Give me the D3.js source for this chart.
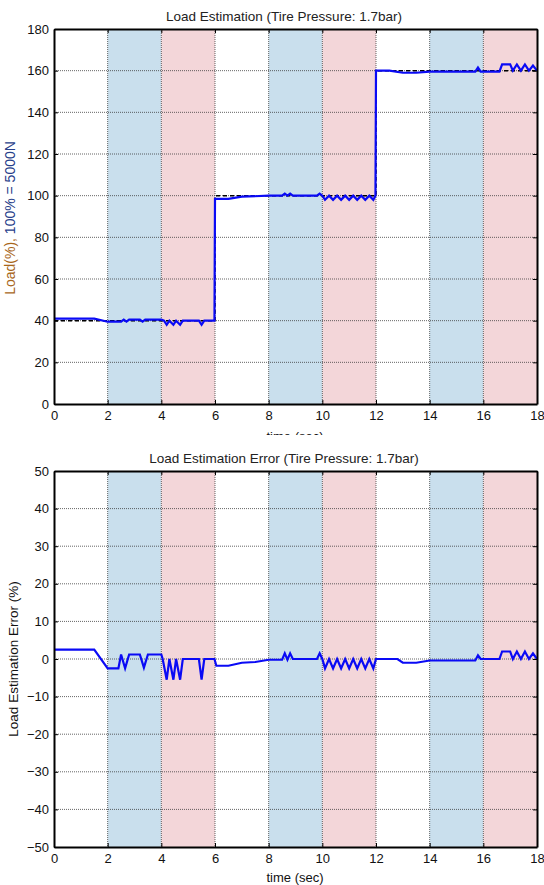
<!DOCTYPE html>
<html>
<head>
<meta charset="utf-8">
<script src="https://cdn.jsdelivr.net/npm/d3@7"></script>
<style>
  body { margin: 0; background: #fff; }
  svg text { font-family: "Liberation Sans", Arial, sans-serif; }
</style>
</head>
<body>
<div id="wrapper"></div>
<script>
// shaded test phases (sec)
const blueBands = [[2, 4], [8, 10], [14, 16]];
const pinkBands = [[4, 6], [10, 12], [16, 18]];

const xTicks = [0, 2, 4, 6, 8, 10, 12, 14, 16, 18];
const loadTicks = [0, 20, 40, 60, 80, 100, 120, 140, 160, 180];
const errTicks = [-50, -40, -30, -20, -10, 0, 10, 20, 30, 40, 50];

// reference load (black dashed)
const refTime = [0, 6, 6, 12, 12, 18];
const refLoad = [40, 40, 100, 100, 160, 160];

// estimated load (blue)
const estTime = [0, 1.5, 2.0, 2.5, 2.6, 2.7, 2.8, 3.2, 3.3, 3.4, 4.0, 4.1, 4.2, 4.3, 4.45, 4.55, 4.7, 4.8, 5.4, 5.5, 5.6, 5.98,
  6.0, 6.5, 7.0, 8.0, 8.5, 8.6, 8.7, 8.8, 8.9, 9.8, 9.9, 10.0,
  10.1, 10.25, 10.4, 10.55, 10.7, 10.85, 11.0, 11.15, 11.3, 11.45, 11.6, 11.75, 11.9, 11.98,
  12.0, 12.5, 13.0, 13.5, 14.0, 15.7, 15.8, 15.9, 16.6, 16.7, 17.0, 17.1, 17.25, 17.4, 17.55, 17.7, 17.85, 18.0];
const estLoad = [41, 41, 39.5, 39.5, 40.5, 39.5, 40.5, 40.5, 39.5, 40.5, 40.5, 40, 38, 40, 38, 40, 38, 40, 40, 38, 40, 40,
  98.5, 98.5, 99.5, 100, 100, 101, 100, 101, 100, 100, 101, 100,
  98, 100, 98, 100, 98, 100, 98, 100, 98, 100, 98, 100, 98, 100,
  160, 160, 159, 159, 159.5, 159.5, 161.5, 159.5, 159.5, 163, 163, 160, 163, 160, 163, 160, 162.5, 160];

// estimation error (blue, %)
const errTime = [0, 1.5, 2.0, 2.4, 2.5, 2.65, 2.8, 3.2, 3.35, 3.5, 4.0, 4.05, 4.2, 4.3, 4.45, 4.55, 4.7, 4.8, 5.4, 5.5, 5.6, 5.98,
  6.05, 6.5, 7.0, 7.5, 8.0, 8.5, 8.6, 8.7, 8.8, 8.9, 9.8, 9.9, 10.0,
  10.1, 10.25, 10.4, 10.55, 10.7, 10.85, 11.0, 11.15, 11.3, 11.45, 11.6, 11.75, 11.9, 12.0,
  12.8, 13.0, 13.5, 14.0, 15.7, 15.8, 15.9, 16.6, 16.7, 17.0, 17.1, 17.25, 17.4, 17.55, 17.7, 17.85, 18.0];
const errValue = [2.5, 2.5, -2.5, -2.5, 1.2, -2.5, 1.2, 1.2, -2.3, 1.2, 1.2, 0, -5.5, 0, -5.5, 0, -5.5, 0, 0, -5.5, 0, 0,
  -1.8, -1.8, -1, -0.8, -0.2, -0.2, 1.5, -0.2, 1.5, 0, 0, 1.5, 0,
  -2.5, 0, -2.5, 0, -2.5, 0, -2.5, 0, -2.5, 0, -2.5, 0, -2.5, 0,
  0, -1, -1, -0.4, -0.4, 1, 0, 0, 2, 2, 0, 2, 0, 2, 0, 1.5, 0];

const width = 544, height = 885;
const svg = d3.select("#wrapper").append("svg")
  .attr("width", width).attr("height", height);

function drawPanel(opt) {
  const x = d3.scaleLinear().domain([0, 18]).range([54, 537]);
  const y = d3.scaleLinear().domain(opt.yDomain).range([opt.bottom, opt.top]);
  const g = svg.append("g");

  // background bands
  g.selectAll(".bb").data(blueBands).enter().append("rect")
    .attr("x", d => x(d[0])).attr("width", d => x(d[1]) - x(d[0]))
    .attr("y", opt.top).attr("height", opt.bottom - opt.top)
    .attr("fill", "#c9dfed");
  g.selectAll(".pb").data(pinkBands).enter().append("rect")
    .attr("x", d => x(d[0])).attr("width", d => x(d[1]) - x(d[0]))
    .attr("y", opt.top).attr("height", opt.bottom - opt.top)
    .attr("fill", "#f3d6d9");

  // grid
  g.selectAll(".gx").data(xTicks.slice(1, -1)).enter().append("line")
    .attr("x1", d => x(d)).attr("x2", d => x(d))
    .attr("y1", opt.top).attr("y2", opt.bottom)
    .attr("stroke", "#333").attr("stroke-width", 1).attr("stroke-dasharray", "1,1").attr("opacity", 0.75);
  g.selectAll(".gy").data(opt.yTicks.slice(1, -1)).enter().append("line")
    .attr("x1", 54).attr("x2", 537)
    .attr("y1", d => y(d)).attr("y2", d => y(d))
    .attr("stroke", "#333").attr("stroke-width", 1).attr("stroke-dasharray", "1,1").attr("opacity", 0.75);

  // series
  opt.series.forEach(s => {
    const line = d3.line().x((d, i) => x(s.t[i])).y(d => y(d));
    g.append("path").datum(s.v)
      .attr("d", line)
      .attr("fill", "none")
      .attr("stroke", s.color)
      .attr("stroke-width", s.w)
      .attr("stroke-dasharray", s.dash || null);
  });

  // axes (inward ticks, MATLAB style)
  const axB = g.append("g").attr("transform", `translate(0,${opt.bottom})`)
    .call(d3.axisBottom(x).tickValues(xTicks).tickSizeInner(-4).tickSizeOuter(0).tickPadding(7));
  const axT = g.append("g").attr("transform", `translate(0,${opt.top})`)
    .call(d3.axisTop(x).tickValues(xTicks).tickSizeInner(-4).tickSizeOuter(0).tickFormat(""));
  const axL = g.append("g").attr("transform", "translate(54,0)")
    .call(d3.axisLeft(y).tickValues(opt.yTicks).tickSizeInner(-4).tickSizeOuter(0).tickPadding(5));
  const axR = g.append("g").attr("transform", "translate(537,0)")
    .call(d3.axisRight(y).tickValues(opt.yTicks).tickSizeInner(-4).tickSizeOuter(0).tickFormat(""));
  [axB, axT, axL, axR].forEach(a => {
    a.select(".domain").attr("stroke", "#000").attr("stroke-width", 2);
    a.selectAll(".tick line").attr("stroke", "#000");
    a.selectAll("text").attr("font-size", "13px").attr("fill", "#111")
      .style("font-family", "Liberation Sans, Arial, sans-serif");
  });

  g.append("text")
    .attr("x", 284).attr("y", opt.top - 8)
    .attr("text-anchor", "middle").attr("font-size", "13.5px").attr("fill", "#222")
    .text(opt.title);

  return { x, y, g };
}

const loadPanel = drawPanel({
  top: 29, bottom: 404,
  yDomain: [0, 180], yTicks: loadTicks,
  title: "Load Estimation (Tire Pressure: 1.7bar)",
  series: [
    { t: refTime, v: refLoad, color: "#000", w: 1.5, dash: "4,3" },
    { t: estTime, v: estLoad, color: "#0a0af5", w: 2.2 }
  ]
});

// top chart x label, partly hidden under the lower panel
svg.append("text")
  .attr("x", 295).attr("y", 441)
  .attr("text-anchor", "middle").attr("font-size", "13px").attr("fill", "#111")
  .text("time (sec)");
svg.append("rect").attr("x", 0).attr("y", 435).attr("width", width).attr("height", 20).attr("fill", "#fff");

// y label of top chart, two colours
const yl = svg.append("text")
  .attr("transform", "translate(15,218) rotate(-90)")
  .attr("text-anchor", "middle").attr("font-size", "14px");
yl.append("tspan").attr("fill", "#a8661a").text("Load(%),");
yl.append("tspan").attr("fill", "#27408a").text("  100% = 5000N");

const errPanel = drawPanel({
  top: 471, bottom: 847,
  yDomain: [-50, 50], yTicks: errTicks,
  title: "Load Estimation Error (Tire Pressure: 1.7bar)",
  series: [
    { t: errTime, v: errValue, color: "#0a0af5", w: 2.2 }
  ]
});

svg.append("text")
  .attr("transform", "translate(18,659) rotate(-90)")
  .attr("text-anchor", "middle").attr("font-size", "13.5px").attr("fill", "#111")
  .text("Load Estimation Error (%)");

svg.append("text")
  .attr("x", 295).attr("y", 882)
  .attr("text-anchor", "middle").attr("font-size", "13px").attr("fill", "#111")
  .text("time (sec)");
</script>
</body>
</html>
